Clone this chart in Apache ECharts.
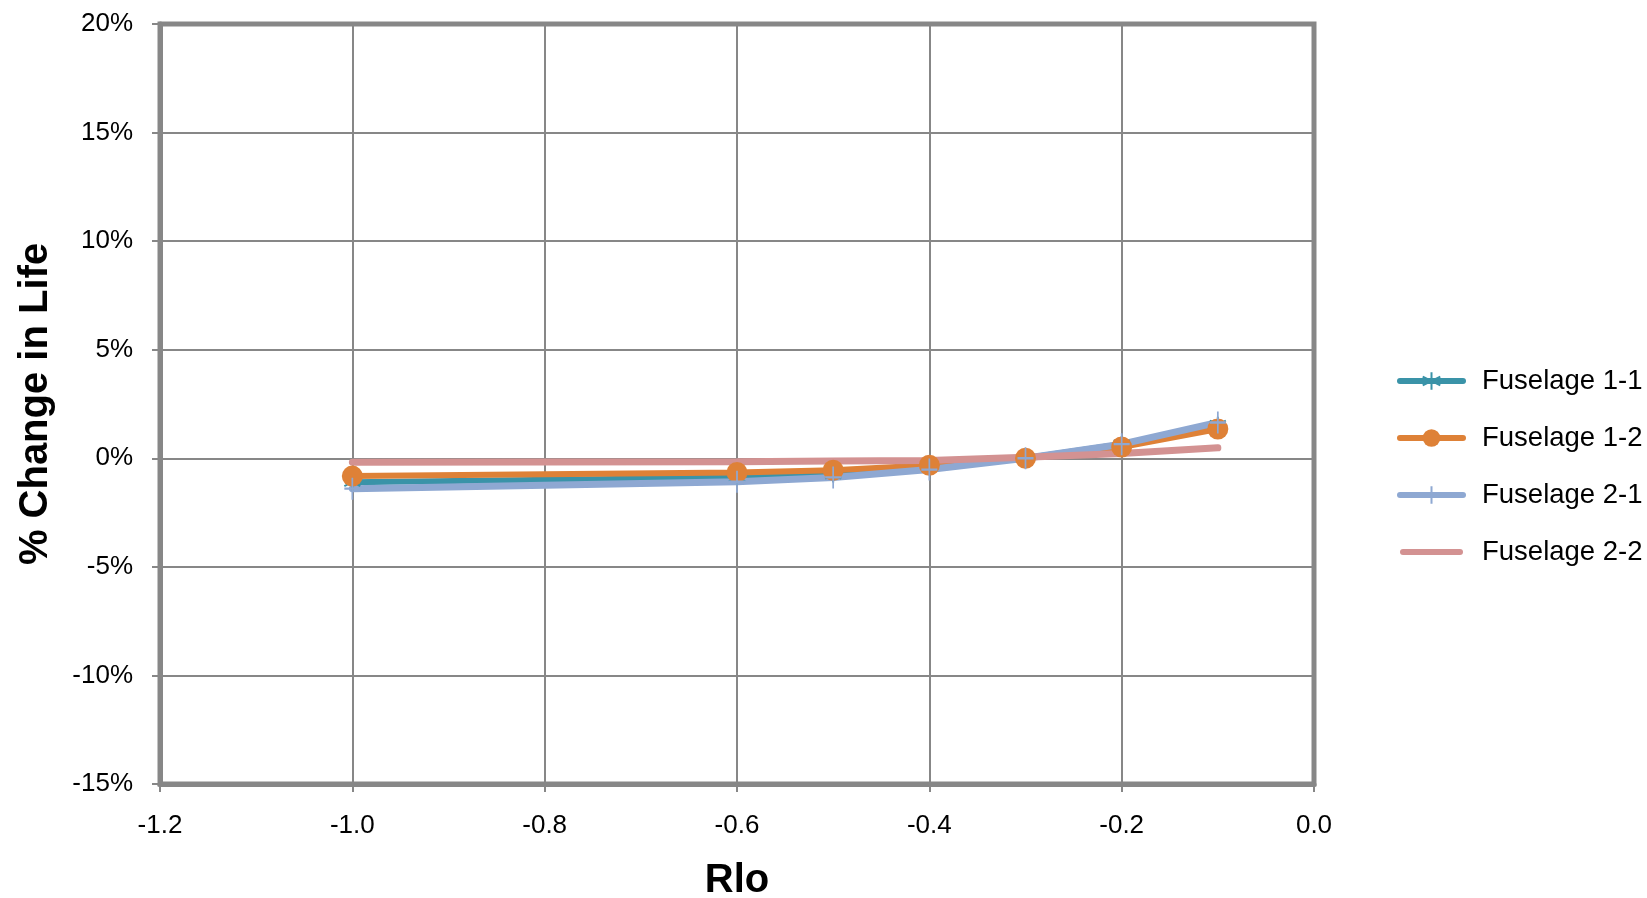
<!DOCTYPE html>
<html>
<head>
<meta charset="utf-8">
<title>% Change in Life vs Rlo</title>
<script src="https://cdn.jsdelivr.net/npm/echarts@6/dist/echarts.min.js"></script>
<style>
  html, body { margin: 0; padding: 0; background: #ffffff; }
  #chart { width: 1647px; height: 898px; }
</style>
</head>
<body>
<div id="chart"></div>
<script>
// Rlo values sampled for each fuselage location
const rloValues = [-1.0, -0.6, -0.5, -0.4, -0.3, -0.2, -0.1];

// % change in life (percent units) per series
const fuselage11 = [-1.10, -0.88, -0.75, -0.40, 0.00, 0.65, 1.55];
const fuselage12 = [-0.82, -0.65, -0.55, -0.32, 0.00, 0.52, 1.35];
const fuselage21 = [-1.40, -1.08, -0.88, -0.52, 0.00, 0.65, 1.65];
const fuselage22 = [-0.18, -0.16, -0.12, -0.10, 0.05, 0.22, 0.48];

const seriesNames = ['Fuselage 1-1', 'Fuselage 1-2', 'Fuselage 2-1', 'Fuselage 2-2'];

const pairs = ys => rloValues.map((x, i) => [x, ys[i]]);

const FONT = 'Liberation Sans';
const GRIDGRAY = '#878787';

const COL11 = '#3a93a8';
const COL12 = '#de8137';
const COL21 = '#8ea8d2';
const COL22 = '#d39292';

const asterisk = 'path://M10 0L10 20M1.34 5L18.66 15M1.34 15L18.66 5';
const plusMark = 'path://M10 0L10 20M0 10L20 10';
// plain thick bar with round ends, used as the legend key of the marker-less series
const barKey = 'path://M3 0H60A3 3 0 0 1 60 6H3A3 3 0 0 1 3 0Z';

const chart = echarts.init(document.getElementById('chart'), null, { renderer: 'canvas' });

chart.setOption({
  backgroundColor: '#ffffff',
  animation: false,
  grid: {
    left: 160, right: 333, top: 24, bottom: 114,
    outerBoundsMode: 'none',
    containLabel: false,
    show: true,
    borderColor: GRIDGRAY,
    borderWidth: 5,
    backgroundColor: 'transparent'
  },
  legend: {
    orient: 'vertical',
    left: 1392,
    top: 362,
    itemWidth: 63,
    itemHeight: 22,
    itemGap: 29,
    lineStyle: { width: 6, cap: 'round' },
    textStyle: { fontFamily: FONT, fontSize: 27.5, color: '#000000', padding: [0, 0, 0, 14] },
    data: [
      { name: seriesNames[0] },
      { name: seriesNames[1] },
      { name: seriesNames[2] },
      { name: seriesNames[3], icon: barKey, itemStyle: { color: COL22, borderWidth: 0 } }
    ]
  },
  xAxis: {
    type: 'value',
    min: -1.2,
    max: 0,
    interval: 0.2,
    name: 'Rlo',
    nameLocation: 'middle',
    nameGap: 77,
    nameTextStyle: { fontFamily: FONT, fontSize: 40, fontWeight: 'bold', color: '#000000' },
    axisLine: { show: true, onZero: false, lineStyle: { color: GRIDGRAY, width: 5 } },
    axisTick: { show: true, inside: false, length: 8, lineStyle: { color: GRIDGRAY, width: 2 } },
    axisLabel: {
      margin: 29,
      fontFamily: FONT, fontSize: 26, color: '#000000',
      formatter: v => v.toFixed(1)
    },
    splitLine: { show: true, lineStyle: { color: GRIDGRAY, width: 2 } }
  },
  yAxis: {
    type: 'value',
    min: -15,
    max: 20,
    interval: 5,
    name: '% Change in Life',
    nameLocation: 'middle',
    nameRotate: 90,
    nameGap: 104,
    nameTextStyle: { fontFamily: FONT, fontSize: 40, fontWeight: 'bold', color: '#000000' },
    axisLine: { show: true, onZero: false, lineStyle: { color: GRIDGRAY, width: 5 } },
    axisTick: { show: true, inside: false, length: 8, lineStyle: { color: GRIDGRAY, width: 2 } },
    axisLabel: {
      margin: 27,
      fontFamily: FONT, fontSize: 26, color: '#000000',
      formatter: v => v + '%'
    },
    splitLine: { show: true, lineStyle: { color: GRIDGRAY, width: 2 } }
  },
  series: [
    {
      name: seriesNames[0],
      type: 'line',
      data: pairs(fuselage11),
      symbol: asterisk,
      symbolSize: 16,
      showAllSymbol: true,
      lineStyle: { color: COL11, width: 6, cap: 'round' },
      itemStyle: { color: COL11, borderColor: COL11, borderWidth: 2 }
    },
    {
      name: seriesNames[1],
      type: 'line',
      data: pairs(fuselage12),
      symbol: 'circle',
      symbolSize: 21,
      lineStyle: { color: COL12, width: 6, cap: 'round' },
      itemStyle: { color: COL12, borderWidth: 0 }
    },
    {
      name: seriesNames[2],
      type: 'line',
      data: pairs(fuselage21),
      symbol: plusMark,
      symbolSize: [16, 22],
      lineStyle: { color: COL21, width: 7, cap: 'round' },
      itemStyle: { color: COL21, borderColor: COL21, borderWidth: 2 }
    },
    {
      name: seriesNames[3],
      type: 'line',
      data: pairs(fuselage22),
      symbol: 'none',
      lineStyle: { color: COL22, width: 7, cap: 'round' },
      itemStyle: { color: COL22 }
    }
  ]
});
</script>
</body>
</html>
